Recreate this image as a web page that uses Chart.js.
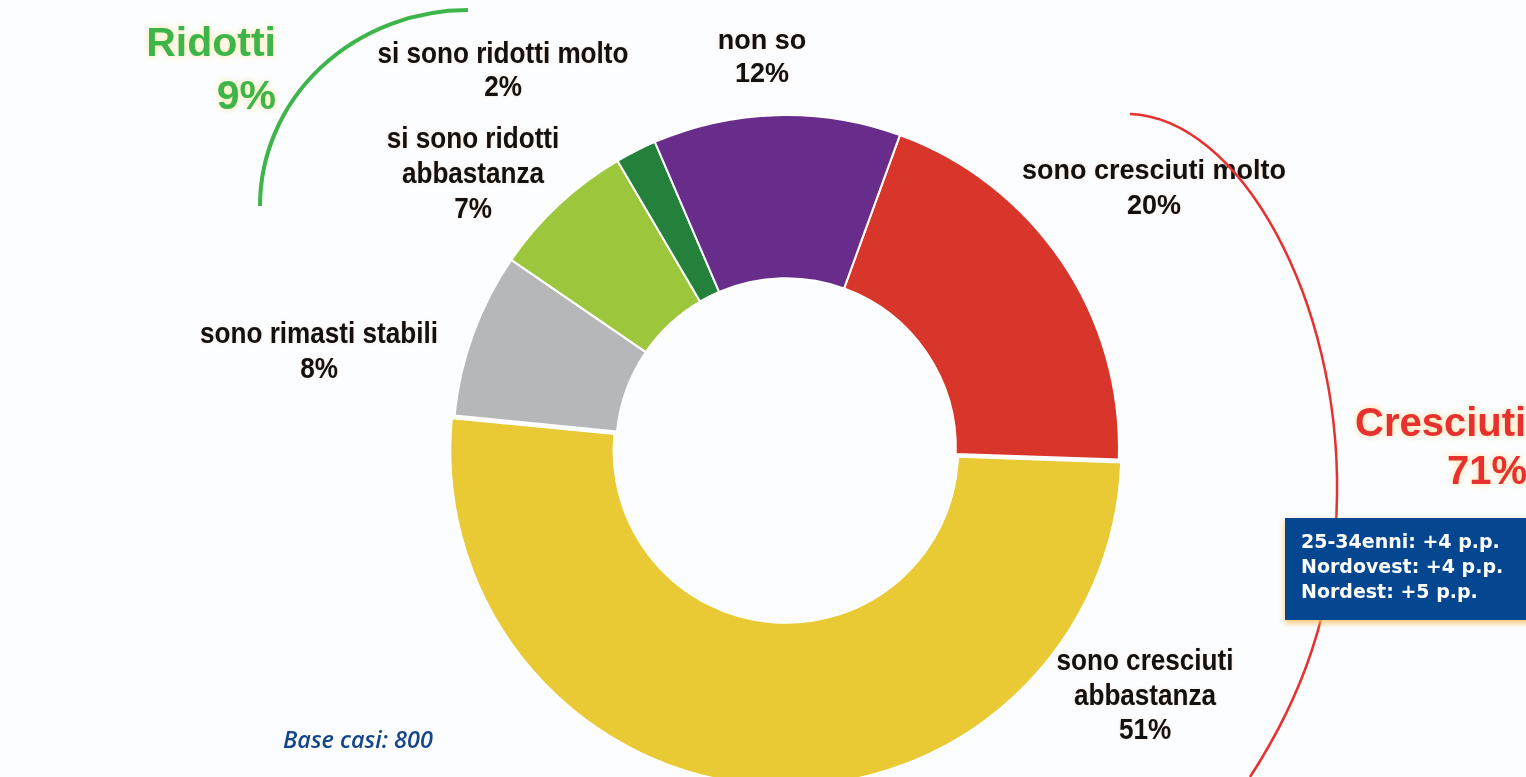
<!DOCTYPE html>
<html lang="it">
<head>
    <meta charset="UTF-8">
    <title>Prezzi</title>
    <script src="https://cdn.jsdelivr.net/npm/chart.js"></script>
    <style>
        html, body { margin: 0; padding: 0; overflow: hidden; background: #fcfdfe; }
        #wrap { position: relative; width: 1526px; height: 800px; }
    </style>
</head>
<body>
    <div id="wrap">
        <canvas id="myChart"></canvas>
    </div>

    <script>
        // data, clockwise from the red slice
        const categories = ['sono cresciuti molto', 'sono cresciuti abbastanza', 'sono rimasti stabili',
                            'si sono ridotti abbastanza', 'si sono ridotti molto', 'non so'];
        const values = [20, 51, 8, 7, 2, 12];
        const sliceColors = ['#d8362b', '#e9c934', '#b5b7b9', '#9cc73d', '#24813c', '#682c8a'];

        // label text lines for each slice (same order)
        const labelLines = [
            ['sono cresciuti molto', '20%'],
            ['sono cresciuti', 'abbastanza', '51%'],
            ['sono rimasti stabili', '8%'],
            ['si sono ridotti', 'abbastanza', '7%'],
            ['si sono ridotti molto', '2%'],
            ['non so', '12%']
        ];
        // where each label block is centred (x) and first line placed (y)
        const labelPos = [[1154, 172], [1145, 662], [319, 335], [473, 140], [503, 55], [762, 42]];
        const labelStep = [35, 34.5, 35, 35, 33, 33];
        // narrow-looking labels get squeezed a little
        const labelSqueeze = [1, 0.9, 0.9, 0.9, 0.9, 1];

        const boxLines = ['25-34enni: +4 p.p.', 'Nordovest: +4 p.p.', 'Nordest: +5 p.p.'];

        // everything drawn around the doughnut
        const annotations = {
            id: 'annotations',
            afterDatasetsDraw(chart) {
                const ctx = chart.ctx;
                ctx.save();

                // slice labels
                ctx.fillStyle = '#111';
                ctx.textAlign = 'center';
                ctx.textBaseline = 'middle';
                ctx.shadowColor = 'rgba(250,215,195,0.8)';
                ctx.shadowBlur = 3;
                labelLines.forEach((lines, i) => {
                    const sq = labelSqueeze[i];
                    ctx.font = sq < 1 ? 'bold 29px "Liberation Sans", Arial, sans-serif'
                                      : 'bold 27px "Liberation Sans", Arial, sans-serif';
                    lines.forEach((t, j) => {
                        ctx.save();
                        ctx.translate(labelPos[i][0], labelPos[i][1] + j * labelStep[i]);
                        ctx.scale(sq, 1);
                        ctx.fillText(t, 0, 0);
                        ctx.restore();
                    });
                });

                // green bracket + Ridotti
                ctx.shadowBlur = 0;
                ctx.strokeStyle = '#3db54a';
                ctx.lineWidth = 4;
                ctx.beginPath();
                ctx.ellipse(468, 206, 208, 196, 0, Math.PI, 1.5 * Math.PI);
                ctx.stroke();

                ctx.shadowColor = 'rgba(255,230,150,0.9)';
                ctx.shadowBlur = 6;
                ctx.fillStyle = '#3db54a';
                ctx.font = 'bold 41px "Liberation Sans", Arial, sans-serif';
                ctx.textAlign = 'right';
                ctx.fillText('Ridotti', 276, 45);
                ctx.fillText('9%', 276, 98);

                // red bracket + Cresciuti
                ctx.shadowBlur = 0;
                ctx.strokeStyle = '#e8312f';
                ctx.lineWidth = 2.5;
                ctx.beginPath();
                ctx.moveTo(1130, 114);
                ctx.bezierCurveTo(1240, 118, 1340, 300, 1337, 495);
                ctx.bezierCurveTo(1336, 610, 1300, 700, 1250, 777);
                ctx.stroke();

                ctx.shadowColor = 'rgba(255,220,140,0.9)';
                ctx.shadowBlur = 6;
                ctx.fillStyle = '#e8312f';
                ctx.font = 'bold 40px "Liberation Sans", Arial, sans-serif';
                ctx.textAlign = 'left';
                ctx.fillText('Cresciuti', 1355, 425);
                ctx.fillText('71%', 1447, 473);

                // blue note box
                ctx.shadowColor = 'rgba(245,190,90,0.9)';
                ctx.shadowBlur = 6;
                ctx.shadowOffsetY = 3;
                ctx.fillStyle = '#044790';
                ctx.fillRect(1285, 518, 260, 102);
                ctx.shadowColor = 'transparent';
                ctx.shadowOffsetY = 0;
                ctx.fillStyle = '#ffffff';
                ctx.font = 'bold 19px "DejaVu Sans", Verdana, sans-serif';
                boxLines.forEach((t, j) => ctx.fillText(t, 1301, 543 + j * 25));

                // base
                ctx.fillStyle = '#16468a';
                ctx.font = 'italic 600 23px "Open Sans", sans-serif';
                ctx.save();
                ctx.translate(283, 741);
                ctx.scale(1.02, 1);
                ctx.fillText('Base casi: 800', 0, 0);
                ctx.restore();

                ctx.restore();
            }
        };

        const config = {
            type: 'doughnut',
            data: {
                labels: categories,
                datasets: [{
                    data: values,
                    backgroundColor: sliceColors,
                    borderColor: '#ffffff',
                    borderWidth: 2,
                    offset: [0, 10, 0, 0, 0, 0]
                }]
            },
            options: {
                responsive: true,
                maintainAspectRatio: false,
                animation: false,
                rotation: 20,
                cutout: '51%',
                layout: {
                    padding: { left: 447, right: 401, top: 109, bottom: 13 }
                },
                plugins: {
                    legend: { display: false },
                    tooltip: { enabled: false }
                }
            },
            plugins: [annotations]
        };

        var myChart = new Chart(document.getElementById('myChart'), config);
    </script>
</body>
</html>
